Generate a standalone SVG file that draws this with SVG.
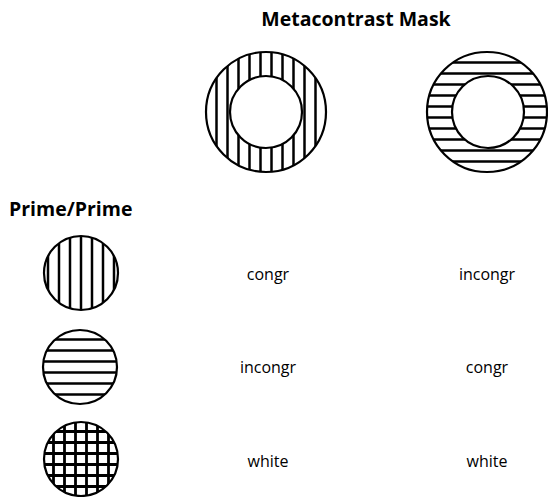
<svg xmlns="http://www.w3.org/2000/svg" width="548" height="497" viewBox="0 0 548 497">
<style>
.t{font-family:"Open Sans","Liberation Sans",sans-serif;fill:#000}
.h{font-size:19.5px;font-weight:bold}
.l{font-size:16px;text-anchor:middle}
.o{fill:none;stroke:#000;stroke-width:2.2}
.w{fill:#fff;stroke:#000;stroke-width:2.2}
.s{stroke:#000;stroke-width:2.5}
.g{stroke:#000;stroke-width:2.8}
</style>
<defs>
<clipPath id="cm1"><circle cx="266" cy="112" r="60"/></clipPath>
<clipPath id="cm2"><circle cx="487" cy="112" r="60"/></clipPath>
<clipPath id="cp1"><circle cx="81" cy="273" r="37"/></clipPath>
<clipPath id="cp2"><circle cx="80" cy="367" r="37"/></clipPath>
<clipPath id="cp3"><circle cx="81" cy="459" r="37"/></clipPath>
</defs>
<text class="t h" x="356" y="26" text-anchor="middle">Metacontrast Mask</text>
<text class="t h" x="9" y="216">Prime/Prime</text>
<g id="mask-vertical">
<g clip-path="url(#cm1)" class="s">
<path d="M216.5 50V175M227.5 50V175M238.5 50V175M249.5 50V175M260.5 50V175M271.5 50V175M282.5 50V175M293.5 50V175M304.5 50V175M315.5 50V175"/>
</g>
<circle class="o" cx="266" cy="112" r="60"/>
<circle class="w" cx="266" cy="112" r="36"/>
</g>
<g id="mask-horizontal">
<g clip-path="url(#cm2)" class="s">
<path d="M425 62.5H550M425 73.5H550M425 84.5H550M425 95.5H550M425 106.5H550M425 117.5H550M425 128.5H550M425 139.5H550M425 150.5H550M425 161.5H550"/>
</g>
<circle class="o" cx="487" cy="112" r="60"/>
<circle class="w" cx="488" cy="112" r="36"/>
</g>
<g id="prime-vertical">
<g clip-path="url(#cp1)" class="s">
<path d="M48 235V312M59 235V312M70 235V312M81 235V312M92 235V312M103 235V312M114 235V312"/>
</g>
<circle class="o" cx="81" cy="273" r="37"/>
</g>
<g id="prime-horizontal">
<g clip-path="url(#cp2)" class="s">
<path d="M42 339.5H120M42 350.5H120M42 361.5H120M42 372.5H120M42 383.5H120M42 394.5H120"/>
</g>
<circle class="o" cx="80" cy="367" r="37"/>
</g>
<g id="prime-grid">
<g clip-path="url(#cp3)" class="g">
<path d="M53.5 420V498M64.5 420V498M75.5 420V498M86.5 420V498M97.5 420V498M108.5 420V498M42 431.5H120M42 442.5H120M42 453.5H120M42 464.5H120M42 475.5H120M42 486.5H120"/>
</g>
<circle class="o" cx="81" cy="459" r="37"/>
</g>
<g id="labels">
<text class="t l" x="268" y="280">congr</text>
<text class="t l" x="487" y="280">incongr</text>
<text class="t l" x="268" y="373">incongr</text>
<text class="t l" x="487" y="373">congr</text>
<text class="t l" x="268" y="467">white</text>
<text class="t l" x="487" y="467">white</text>
</g>
</svg>
